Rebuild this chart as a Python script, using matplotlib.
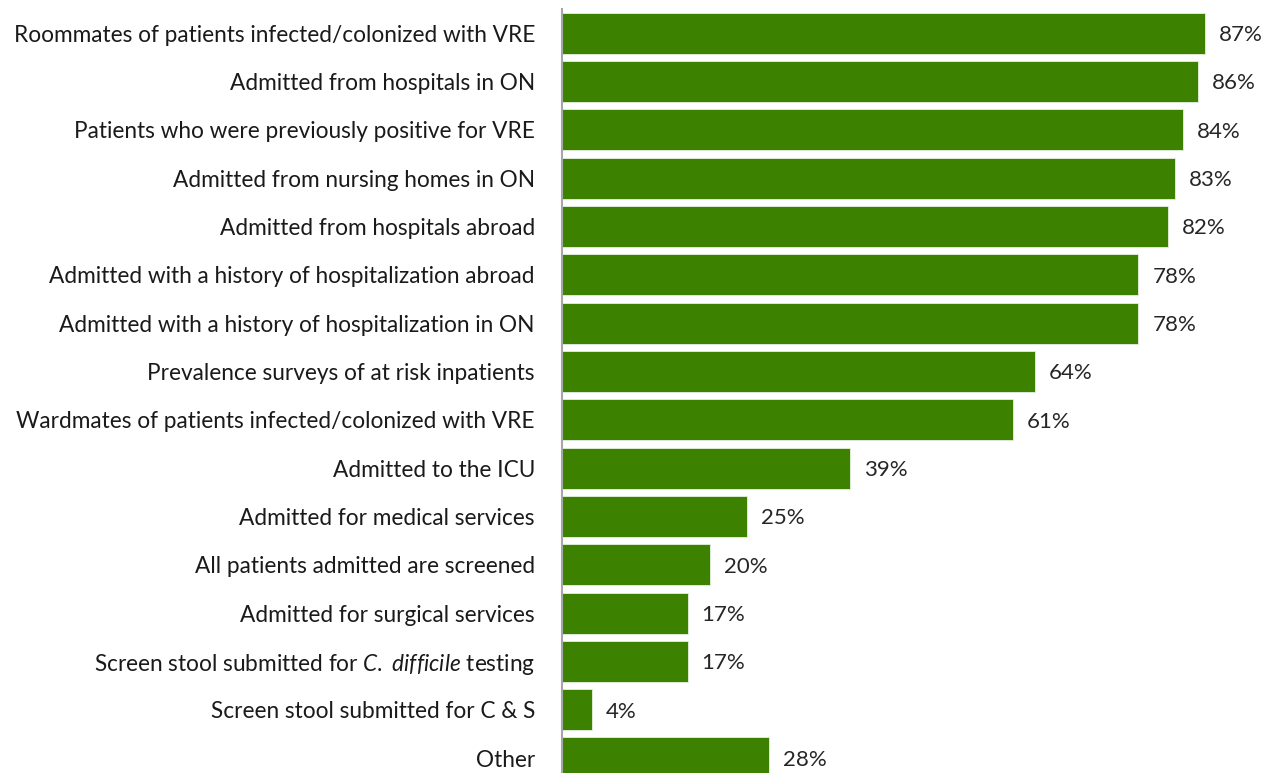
import matplotlib
matplotlib.use("Agg")
import matplotlib.pyplot as plt

categories = [
    "Roommates of patients infected/colonized with VRE",
    "Admitted from hospitals in ON",
    "Patients who were previously positive for VRE",
    "Admitted from nursing homes in ON",
    "Admitted from hospitals abroad",
    "Admitted with a history of hospitalization abroad",
    "Admitted with a history of hospitalization in ON",
    "Prevalence surveys of at risk inpatients",
    "Wardmates of patients infected/colonized with VRE",
    "Admitted to the ICU",
    "Admitted for medical services",
    "All patients admitted are screened",
    "Admitted for surgical services",
    r"Screen stool submitted for $\mathit{C.\ difficile}$ testing",
    "Screen stool submitted for C & S",
    "Other",
]
values = [87, 86, 84, 83, 82, 78, 78, 64, 61, 39, 25, 20, 17, 17, 4, 28]

plt.rcParams['font.family'] = ['Lato', 'DejaVu Sans']
plt.rcParams['mathtext.fontset'] = 'custom'
plt.rcParams['mathtext.rm'] = 'Lato'
plt.rcParams['mathtext.it'] = 'Lato:italic'

W, H = 1277, 773
fig = plt.figure(figsize=(W / 100, H / 100), dpi=100)
x0 = 562
top = 9
ax = fig.add_axes([x0 / W, 0, 1 - x0 / W, (H - top) / H])

ypos = list(range(len(categories)))
ax.barh(ypos, values, height=0.85, color='#3C8200', edgecolor='#e8f0e0', linewidth=0.6)
ax.set_ylim(15.31, -0.5)
scale = 7.39
ax.set_xlim(0, (W - x0) / scale)

ax.set_yticks(ypos)
ax.set_yticklabels(categories, fontsize=16.3, color='#1a1a1a')
ax.tick_params(axis='y', length=0, pad=19.5)
ax.set_xticks([])
for s in ['top', 'right', 'bottom']:
    ax.spines[s].set_visible(False)
ax.spines['left'].set_color('#a6a6a6')
ax.spines['left'].set_linewidth(1.5)

for y, v in zip(ypos, values):
    ax.annotate(f"{v}%", (v, y), xytext=(14, -2), textcoords='offset pixels',
                va='center', ha='left', fontsize=16, color='#262626')

fig.savefig("out.png", dpi=100)
